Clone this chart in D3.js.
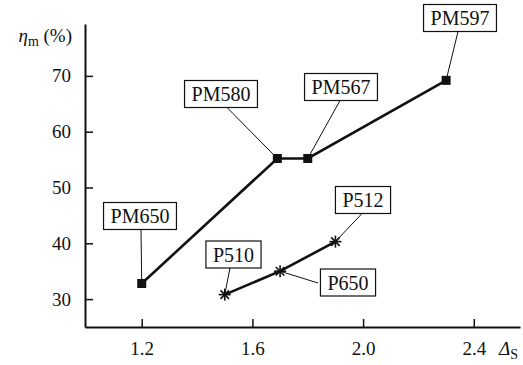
<!DOCTYPE html>
<html><head><meta charset="utf-8">
<script src="https://cdn.jsdelivr.net/npm/d3@7"></script>
<style>
body{margin:0;background:#fff;}
svg text{font-family:"Liberation Serif","Noto Serif","DejaVu Serif","Times New Roman",serif;}
</style></head>
<body>
<svg id="c" width="523" height="365"></svg>
<script>
// Data
const pmNames = ["PM650","PM580","PM567","PM597"];
const pmX = [1.2, 1.69, 1.8, 2.3];
const pmY = [32.8, 55.2, 55.2, 69.2];
const pNames = ["P510","P650","P512"];
const pX = [1.5, 1.7, 1.9];
const pY = [30.8, 35.0, 40.3];
const xTicks = [1.2, 1.6, 2.0, 2.4];
const yTicks = [30, 40, 50, 60, 70];
// annotation layout: label box centers and leader start points (pixels)
const pmLabelPos = [[140,216],[221,94],[341,87],[460,18]];
const pmLeadFrom = [[141,229.5],[227,107.5],[340,100.5],[458,31.5]];
const pLabelPos = [[233.5,254.5],[348,282.5],[363,200]];
const pLeadFrom = [[230,268],[318,283],[362,213.5]];

const svg = d3.select("#c");
const x = d3.scaleLinear().domain([0.995, 2.567]).range([85, 520]);
const y = d3.scaleLinear().domain([25, 79.3]).range([327, 24]);
const ink = "#111";

// axes
const gx = svg.append("g").attr("transform","translate(0,327)")
  .call(d3.axisBottom(x).tickValues(xTicks).tickFormat(d3.format(".1f")).tickSizeInner(-8).tickSizeOuter(0).tickPadding(14.5));
const gy = svg.append("g").attr("transform","translate(85,0)")
  .call(d3.axisLeft(y).tickValues(yTicks).tickSizeInner(-8).tickSizeOuter(0).tickPadding(14));
[gx,gy].forEach(g=>{
  g.attr("font-family",null);
  g.select(".domain").attr("stroke",ink).attr("stroke-width",2);
  g.selectAll(".tick line").attr("stroke",ink).attr("stroke-width",1.5);
  g.selectAll(".tick text").attr("fill",ink).style("font-size","19px");
});

// axis titles
const yt = svg.append("text").attr("x",72).attr("y",42).attr("text-anchor","end")
  .style("font-size","19px").attr("fill",ink);
yt.append("tspan").style("font-style","italic").text("η");
yt.append("tspan").attr("dy",4).style("font-size","14px").text("m");
yt.append("tspan").attr("dy",-4).text(" (%)");

const xt = svg.append("text").attr("x",499).attr("y",355)
  .style("font-size","19px").attr("fill",ink);
xt.append("tspan").style("font-style","italic").text("Δ");
xt.append("tspan").attr("dy",4).style("font-size","14px").text("S");

// lines
const line = d3.line().x(d=>x(d[0])).y(d=>y(d[1]));
const pm = pmX.map((v,i)=>[v,pmY[i],pmNames[i],pmLabelPos[i],pmLeadFrom[i]]);
const pp = pX.map((v,i)=>[v,pY[i],pNames[i],pLabelPos[i],pLeadFrom[i]]);

// leader lines + labels
function labels(data){
  data.forEach(d=>{
    const px = x(d[0]), py = y(d[1]);
    const [cx,cy] = d[3];
    svg.append("line").attr("x1",d[4][0]).attr("y1",d[4][1]).attr("x2",px).attr("y2",py)
      .attr("stroke",ink).attr("stroke-width",1);
    const g = svg.append("g");
    const t = g.append("text").attr("x",cx).attr("y",cy).attr("text-anchor","middle")
      .attr("dy","0.36em").style("font-size","20px").attr("fill",ink).text(d[2]);
    const bb = t.node().getBBox();
    const w = bb.width + 14, h = 27;
    g.insert("rect","text").attr("x",cx - w/2).attr("y",cy - h/2).attr("width",w).attr("height",h)
      .attr("fill","#fff").attr("stroke",ink).attr("stroke-width",1.2);
  });
}
labels(pm); labels(pp);

svg.append("path").datum(pm).attr("d",line).attr("fill","none").attr("stroke",ink).attr("stroke-width",2.6);
svg.append("path").datum(pp).attr("d",line).attr("fill","none").attr("stroke",ink).attr("stroke-width",2.6);

// markers
svg.selectAll(".sq").data(pm).enter().append("rect")
  .attr("x",d=>x(d[0])-4.5).attr("y",d=>y(d[1])-4.5).attr("width",9).attr("height",9).attr("fill",ink);
const star = svg.selectAll(".st").data(pp).enter().append("g")
  .attr("transform",d=>`translate(${x(d[0])},${y(d[1])})`);
[0,45,90,135].forEach(a=>{
  star.append("line").attr("x1",-6).attr("x2",6).attr("y1",0).attr("y2",0)
    .attr("transform",`rotate(${a})`).attr("stroke",ink).attr("stroke-width",1.6);
});
</script>
</body></html>
